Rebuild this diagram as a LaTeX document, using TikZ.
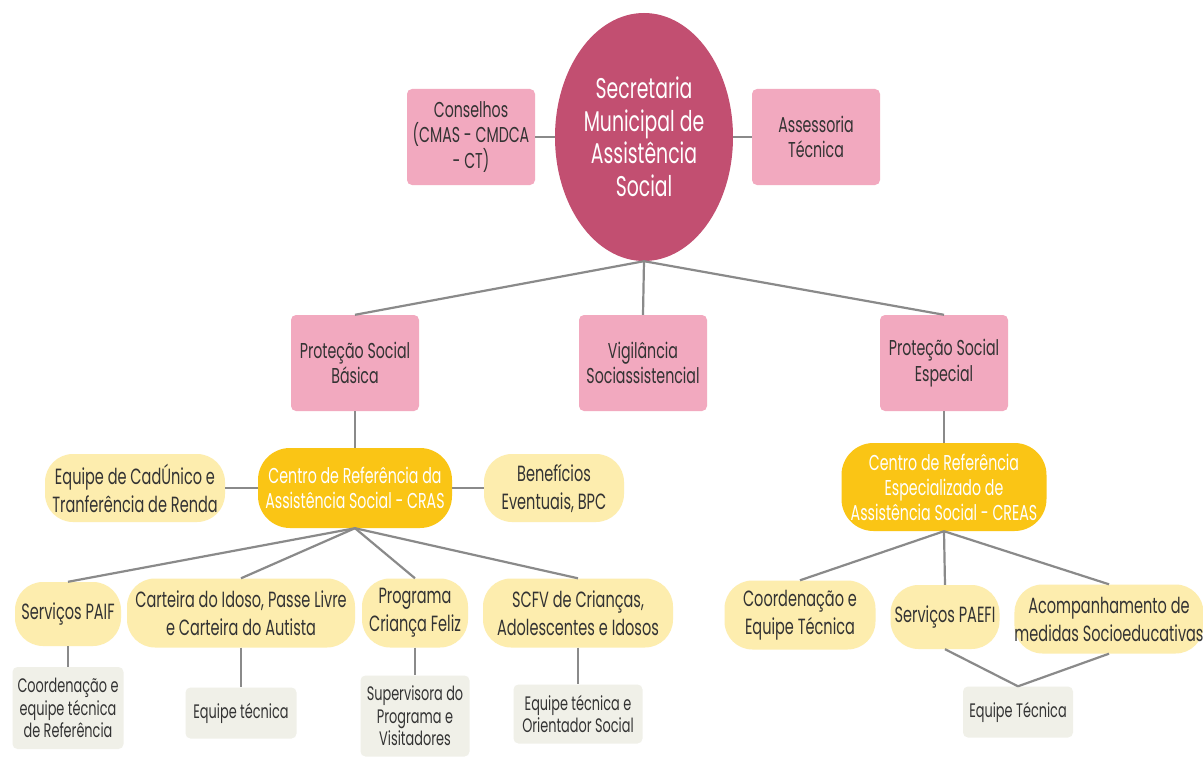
\documentclass[tikz,border=0pt]{standalone}
\usepackage{fontspec}
\setmainfont[FakeStretch=0.66]{Poppins}
\usetikzlibrary{shapes.geometric}
\definecolor{rose}{HTML}{C24F71}
\definecolor{pinkbox}{HTML}{F2A9BF}
\definecolor{gold}{HTML}{FAC515}
\definecolor{lyel}{HTML}{FDEDAE}
\definecolor{lgray}{HTML}{F0F0E8}
\definecolor{ink}{HTML}{333333}
\definecolor{conn}{HTML}{8A8A8A}
\tikzset{
  base/.style={inner sep=0pt, align=center, text=ink},
  pinkb/.style={base, fill=pinkbox, rounded corners=5pt, font=\fontsize{21.5}{25.5}\selectfont},
  goldb/.style={base, fill=gold, rounded corners=32pt, text=white, font=\fontsize{21.5}{25}\selectfont},
  yelb/.style={base, fill=lyel, rounded corners=28pt, font=\fontsize{22}{28}\selectfont},
  grayb/.style={base, fill=lgray, rounded corners=5pt, font=\fontsize{19.5}{22.5}\selectfont},
  link/.style={draw=conn, line width=2.2pt},
}
\begin{document}
\begin{tikzpicture}[x=1pt,y=-1pt]
\useasboundingbox (0,0) rectangle (1203,760);
\fill[white] (0,0) rectangle (1203,760);
% top level
\node[ellipse, fill=rose, minimum width=178pt, minimum height=248pt, inner sep=0pt, align=center, text=white, font=\fontsize{28.5}{32.5}\selectfont] (sec) at (644,137) {Secretaria\\Municipal de\\Assistência\\Social};
\node[pinkb, minimum width=128pt, minimum height=96pt] (cons) at (471,137) {Conselhos\\(CMAS - CMDCA\\- CT)};
\node[pinkb, minimum width=128pt, minimum height=96pt] (asse) at (816,137) {Assessoria\\Técnica};
% second level
\node[pinkb, minimum width=128pt, minimum height=96pt] (psb) at (355,363) {Proteção Social\\Básica};
\node[pinkb, minimum width=128pt, minimum height=96pt] (vig) at (643,363) {Vigilância\\Sociassistencial};
\node[pinkb, minimum width=128pt, minimum height=96pt] (pse) at (944,363) {Proteção Social\\Especial};
% CRAS
\node[goldb, minimum width=194pt, minimum height=80pt] (cras) at (355,488) {Centro de Referência da\\Assistência Social - CRAS};
\node[yelb, minimum width=180pt, minimum height=68pt] (cad) at (135,488) {Equipe de CadÚnico e\\Tranferência de Renda};
\node[yelb, minimum width=140pt, minimum height=68pt] (ben) at (554,488) {Benefícios\\Eventuais, BPC};
\node[yelb, minimum width=106pt, minimum height=64pt] (paif) at (68,614) {Serviços PAIF};
\node[yelb, minimum width=228pt, minimum height=69pt] (cart) at (241,613) {Carteira do Idoso, Passe Livre\\e Carteira do Autista};
\node[yelb, minimum width=106pt, minimum height=69pt] (prog) at (415,613) {Programa\\Criança Feliz};
\node[yelb, minimum width=190pt, minimum height=69pt] (scfv) at (578,613) {SCFV de Crianças,\\Adolescentes e Idosos};
\node[grayb, minimum width=111pt, minimum height=82pt] (g1) at (68,708) {Coordenação e\\equipe técnica\\de Referência};
\node[grayb, minimum width=111pt, minimum height=51pt] (g2) at (241,713) {Equipe técnica};
\node[grayb, minimum width=109pt, minimum height=81pt] (g3) at (415,716) {Supervisora do\\Programa e\\Visitadores};
\node[grayb, minimum width=129pt, minimum height=59pt] (g4) at (578,714) {Equipe técnica e\\Orientador Social};
% CREAS
\node[goldb, minimum width=205pt, minimum height=88pt] (creas) at (944,487) {Centro de Referência\\Especializado de\\Assistência Social - CREAS};
\node[yelb, minimum width=151pt, minimum height=69pt] (coord) at (800,615) {Coordenação e\\Equipe Técnica};
\node[yelb, minimum width=109pt, minimum height=64pt] (paefi) at (945,617) {Serviços PAEFI};
\node[yelb, minimum width=188pt, minimum height=69pt] (acomp) at (1109,619) {Acompanhamento de\\medidas Socioeducativas};
\node[grayb, minimum width=110pt, minimum height=51pt] (g5) at (1018,712) {Equipe Técnica};
% connectors
\draw[link] (cons.east) -- (sec.west);
\draw[link] (sec.east) -- (asse.west);
\draw[link] (sec.south) -- (psb.north);
\draw[link] (sec.south) -- (vig.north);
\draw[link] (sec.south) -- (pse.north);
\draw[link] (psb.south) -- (cras.north);
\draw[link] (cad.east) -- (cras.west);
\draw[link] (cras.east) -- (ben.west);
\draw[link] (cras.south) -- (paif.north);
\draw[link] (cras.south) -- (cart.north);
\draw[link] (cras.south) -- (prog.north);
\draw[link] (cras.south) -- (scfv.north);
\draw[link] (paif.south) -- (g1.north);
\draw[link] (cart.south) -- (g2.north);
\draw[link] (prog.south) -- (g3.north);
\draw[link] (scfv.south) -- (g4.north);
\draw[link] (pse.south) -- (creas.north);
\draw[link] (creas.south) -- (coord.north);
\draw[link] (creas.south) -- (paefi.north);
\draw[link] (creas.south) -- (acomp.north);
\draw[link] (paefi.south) -- (g5.north);
\draw[link] (acomp.south) -- (g5.north);
\end{tikzpicture}
\end{document}
